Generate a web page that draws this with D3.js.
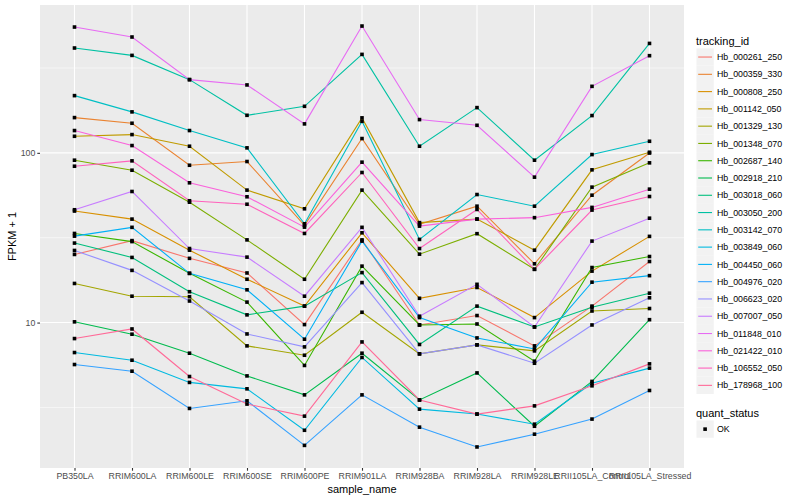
<!DOCTYPE html>
<html><head><meta charset="utf-8">
<script src="https://cdn.jsdelivr.net/npm/d3@7"></script>
<style>body{margin:0;background:#fff}svg{display:block}text{font-family:"Liberation Sans",Arial,sans-serif}</style>
</head><body><svg id="c" width="800" height="500"></svg>
<script>
const samples = ["PB350LA","RRIM600LA","RRIM600LE","RRIM600SE","RRIM600PE","RRIM901LA","RRIM928BA","RRIM928LA","RRIM928LE","RRII105LA_Control","RRII105LA_Stressed"];
const trackingIds = ["Hb_000261_250","Hb_000359_330","Hb_000808_250","Hb_001142_050","Hb_001329_130","Hb_001348_070","Hb_002687_140","Hb_002918_210","Hb_003018_060","Hb_003050_200","Hb_003142_070","Hb_003849_060","Hb_004450_060","Hb_004976_020","Hb_006623_020","Hb_007007_050","Hb_011848_010","Hb_021422_010","Hb_106552_050","Hb_178968_100"];
const Hb_000261_250 = [25.2,30.4,23.9,19.6,9.73,30.7,9.68,11.0,7.29,12.5,22.9];
const Hb_000359_330 = [161.3,149.4,84.5,88.9,37.4,121.4,37.9,48.5,22.2,56.3,99.7];
const Hb_000808_250 = [45.4,40.7,26.7,18.0,12.5,33.8,13.9,16.1,10.7,20.1,32.2];
const Hb_001142_050 = [125.2,128.1,109.4,60.3,46.8,160.7,38.8,40.7,26.7,79.4,100.8];
const Hb_001329_130 = [17.0,14.3,14.2,7.29,6.42,11.5,6.54,7.39,6.81,11.7,12.1];
const Hb_001348_070 = [90.5,79.0,51.2,30.7,18.0,60.3,25.3,33.4,20.6,62.8,87.3];
const Hb_002687_140 = [33.5,30.0,19.5,13.2,5.59,21.5,9.68,9.81,5.92,21.1,24.5];
const Hb_002918_210 = [10.1,8.54,6.60,4.85,3.75,6.60,3.50,5.05,2.45,4.50,10.4];
const Hb_003018_060 = [29.4,24.2,15.2,11.1,12.5,19.7,7.43,12.5,9.42,12.3,14.9];
const Hb_003050_200 = [414.6,375.1,270.0,166.4,188.0,380.2,109.4,184.7,90.5,165.8,441.2];
const Hb_003142_070 = [217.3,174.3,135.3,107.0,38.2,153.4,30.9,56.8,48.5,97.7,117.0];
const Hb_003849_060 = [6.66,6.00,4.44,4.07,2.32,6.23,3.09,2.89,2.52,4.39,5.39];
const Hb_004450_060 = [32.3,36.4,19.5,15.6,7.98,30.2,10.7,8.12,6.99,17.3,18.9];
const Hb_004976_020 = [5.66,5.17,3.12,3.46,1.89,3.75,2.42,1.85,2.20,2.70,3.98];
const Hb_006623_020 = [26.6,20.3,13.4,8.57,7.19,17.2,6.54,7.39,5.76,9.68,14.0];
const Hb_007007_050 = [46.2,59.2,27.3,24.3,14.3,36.4,10.9,16.8,9.42,30.2,41.2];
const Hb_011848_010 = [551.0,481.3,270.0,251.2,148.1,558.5,157.0,145.3,71.9,246.5,373.6];
const Hb_021422_010 = [135.3,110.4,66.6,55.1,36.5,88.1,37.0,40.7,41.5,47.7,61.1];
const Hb_106552_050 = [83.4,89.7,52.2,49.8,33.5,76.6,27.3,46.4,20.6,46.0,55.3];
const Hb_178968_100 = [8.05,9.17,4.81,3.31,2.81,7.69,3.50,2.89,3.23,4.24,5.71];
const seriesValues = [Hb_000261_250,Hb_000359_330,Hb_000808_250,Hb_001142_050,Hb_001329_130,Hb_001348_070,Hb_002687_140,Hb_002918_210,Hb_003018_060,Hb_003050_200,Hb_003142_070,Hb_003849_060,Hb_004450_060,Hb_004976_020,Hb_006623_020,Hb_007007_050,Hb_011848_010,Hb_021422_010,Hb_106552_050,Hb_178968_100];
const yTicks = [10,100];
const yMinor = [3.1623,31.623,316.23];
const quantStatus = ["OK"];

// ggplot2 hue palette: polar LUV (colorspace hcl) -> sRGB
function hclLuv(h, c, l){
  const Xn=95.047, Yn=100, Zn=108.883;
  const hr = h*Math.PI/180, u = c*Math.cos(hr), v = c*Math.sin(hr);
  const Y = l > 8 ? Yn*Math.pow((l+16)/116,3) : Yn*l/903.3;
  const den = Xn+15*Yn+3*Zn, un = 4*Xn/den, vn = 9*Yn/den;
  const up = u/(13*l)+un, vp = v/(13*l)+vn;
  const X = Y*9*up/(4*vp), Z = Y*(12-3*up-20*vp)/(4*vp);
  const x=X/100, y=Y/100, z=Z/100;
  let r = 3.2404542*x-1.5371385*y-0.4985314*z;
  let g = -0.9692660*x+1.8760108*y+0.0415560*z;
  let b = 0.0556434*x-0.2040259*y+1.0572252*z;
  const gam = t => { t = t<=0.0031308 ? 12.92*t : 1.055*Math.pow(t,1/2.4)-0.055; return Math.max(0,Math.min(255,Math.round(t*255))); };
  return d3.rgb(gam(r),gam(g),gam(b)).formatHex();
}

const svg = d3.select("#c");
const P = {l:40, r:684, t:5, b:468};
const n = trackingIds.length;
const colors = trackingIds.map((d,i)=> hclLuv(15 + i*360/n, 100, 65));

const x = d3.scalePoint().domain(samples).range([P.l, P.r]).padding(0.6);
const all = seriesValues.flat();
const lo = Math.log10(d3.min(all)), hi = Math.log10(d3.max(all));
const ex = (hi-lo)*0.05;
const y = d3.scaleLog().domain([Math.pow(10,lo-ex), Math.pow(10,hi+ex)]).range([P.b, P.t]);

svg.append("rect").attr("x",P.l).attr("y",P.t).attr("width",P.r-P.l).attr("height",P.b-P.t).attr("fill","#EBEBEB");
const g = svg.append("g");
g.selectAll(".ymin").data(yMinor).join("line").attr("x1",P.l).attr("x2",P.r)
 .attr("y1",d=>y(d)).attr("y2",d=>y(d)).attr("stroke","#fff").attr("stroke-width",0.55);
g.selectAll(".ymaj").data(yTicks).join("line").attr("x1",P.l).attr("x2",P.r)
 .attr("y1",d=>y(d)).attr("y2",d=>y(d)).attr("stroke","#fff").attr("stroke-width",1.1);
g.selectAll(".xmaj").data(samples).join("line").attr("y1",P.t).attr("y2",P.b)
 .attr("x1",d=>x(d)).attr("x2",d=>x(d)).attr("stroke","#fff").attr("stroke-width",1.1);

const line = d3.line().x((d,i)=>x(samples[i])).y(d=>y(d));
svg.append("g").selectAll("path").data(seriesValues).join("path")
 .attr("d",line).attr("fill","none").attr("stroke",(d,i)=>colors[i]).attr("stroke-width",1.1);

const pts = [];
seriesValues.forEach(s=>s.forEach((v,i)=>pts.push({s:samples[i],v})));
svg.append("g").selectAll("rect").data(pts).join("rect")
 .attr("x",d=>x(d.s)-1.8).attr("y",d=>y(d.v)-1.8).attr("width",3.6).attr("height",3.6).attr("fill","#000");

const xa = svg.append("g").attr("transform",`translate(0,${P.b})`)
 .call(d3.axisBottom(x).tickSize(2.7).tickPadding(2));
xa.select(".domain").remove();
xa.selectAll("line").attr("stroke","#333333").attr("stroke-width",1.1);
xa.selectAll("text").attr("fill","#4D4D4D").attr("font-size","8.8px").attr("font-family","Liberation Sans, Arial, sans-serif");
const ya = svg.append("g").attr("transform",`translate(${P.l},0)`)
 .call(d3.axisLeft(y).tickValues(yTicks).tickFormat(d3.format("d")).tickSize(2.7).tickPadding(2));
ya.select(".domain").remove();
ya.selectAll("line").attr("stroke","#333333").attr("stroke-width",1.1);
ya.selectAll("text").attr("fill","#4D4D4D").attr("font-size","8.8px").attr("font-family","Liberation Sans, Arial, sans-serif");

svg.append("text").attr("x",(P.l+P.r)/2).attr("y",493).attr("text-anchor","middle").attr("font-size","11px").attr("fill","#000").text("sample_name");
svg.append("text").attr("transform",`translate(16,${(P.t+P.b)/2}) rotate(-90)`).attr("text-anchor","middle").attr("font-size","11px").attr("fill","#000").text("FPKM + 1");

const L = svg.append("g");
L.append("text").attr("x",696).attr("y",44.5).attr("font-size","11px").text("tracking_id");
const kh = 17.28, k0 = 48.4;
trackingIds.forEach((id,i)=>{
  const yy = k0 + i*kh;
  L.append("rect").attr("x",696.5).attr("y",yy).attr("width",17.28).attr("height",17.28).attr("fill","#F2F2F2");
  L.append("line").attr("x1",698.2).attr("x2",712).attr("y1",yy+kh/2).attr("y2",yy+kh/2).attr("stroke",colors[i]).attr("stroke-width",1.1);
  L.append("text").attr("x",717).attr("y",yy+kh/2+3.1).attr("font-size","8.8px").attr("fill","#000").text(id);
});
L.append("text").attr("x",696).attr("y",416.5).attr("font-size","11px").text("quant_status");
quantStatus.forEach((q,i)=>{
  const yy = 420.5 + i*kh;
  L.append("rect").attr("x",696.5).attr("y",yy).attr("width",17.28).attr("height",17.28).attr("fill","#F2F2F2");
  L.append("rect").attr("x",705.1-1.8).attr("y",yy+kh/2-1.8).attr("width",3.6).attr("height",3.6).attr("fill","#000");
  L.append("text").attr("x",717).attr("y",yy+kh/2+3.1).attr("font-size","8.8px").attr("fill","#000").text(q);
});
</script></body></html>
